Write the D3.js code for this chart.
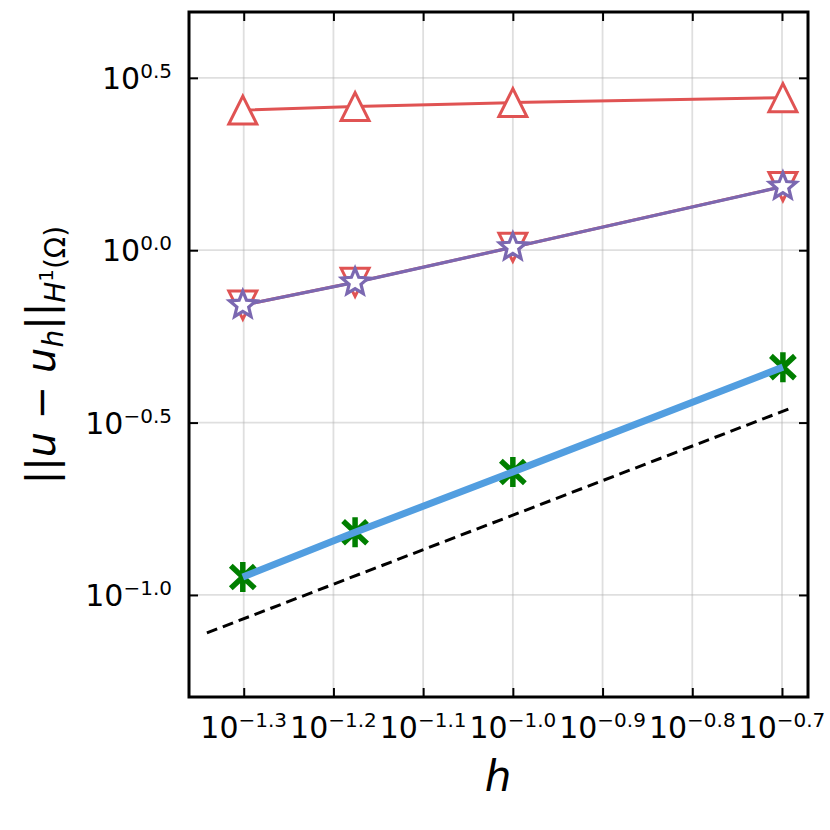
<!DOCTYPE html>
<html><head><meta charset="utf-8">
<script src="https://cdn.jsdelivr.net/npm/d3@7"></script>
<style>body{margin:0;background:#fff}svg{display:block}</style>
</head><body>
<script>
// ---- data ----
const hValues = [0.05, 0.0667, 0.1, 0.2];
const errTriUp = [2.55, 2.61, 2.68, 2.77];
const errTriDown = [0.693, 0.807, 1.02, 1.53];
const errStar = [0.693, 0.807, 1.02, 1.53];
const errAsterisk = [0.1127, 0.152, 0.2275, 0.458];
const errBlue = [0.1127, 0.152, 0.2275, 0.458];
const refH = [0.0456, 0.2037];
const refErr = [0.0776, 0.3475];
const xTickExp = ["-1.3", "-1.2", "-1.1", "-1.0", "-0.9", "-0.8", "-0.7"];
const yTickExp = ["0.5", "0.0", "-0.5", "-1.0"];

const W = 830, H = 830;
const m = {left: 189, right: 22, top: 12, bottom: 133};
const iw = W - m.left - m.right, ih = H - m.top - m.bottom;

const svg = d3.select("body").append("svg").attr("width", W).attr("height", H);
const g = svg.append("g").attr("transform", `translate(${m.left},${m.top})`);

const x = d3.scaleLog().domain([Math.pow(10, -1.361), Math.pow(10, -0.671)]).range([0, iw]);
const y = d3.scaleLog().domain([Math.pow(10, -1.296), Math.pow(10, 0.691)]).range([ih, 0]);

const xTicks = xTickExp.map(e => Math.pow(10, +e));
const yTicks = yTickExp.map(e => Math.pow(10, +e));

// grid
g.append("g").selectAll("line").data(xTicks).join("line")
  .attr("x1", d => x(d)).attr("x2", d => x(d)).attr("y1", 0).attr("y2", ih)
  .attr("stroke", "#b0b0b0").attr("stroke-opacity", 0.4).attr("stroke-width", 1.8);
g.append("g").selectAll("line").data(yTicks).join("line")
  .attr("y1", d => y(d)).attr("y2", d => y(d)).attr("x1", 0).attr("x2", iw)
  .attr("stroke", "#b0b0b0").attr("stroke-opacity", 0.4).attr("stroke-width", 1.8);

// axes (ticks inward)
const tk = 9;
function styleAxis(sel){ sel.select(".domain").remove(); sel.selectAll("line").attr("stroke","#000").attr("stroke-width",2); sel.selectAll("text").remove(); }
g.append("g").attr("transform", `translate(0,${ih})`).call(d3.axisBottom(x).tickValues(xTicks).tickSize(-tk).tickFormat(() => "")).call(styleAxis);
g.append("g").call(d3.axisTop(x).tickValues(xTicks).tickSize(-tk).tickFormat(() => "")).call(styleAxis);
g.append("g").call(d3.axisLeft(y).tickValues(yTicks).tickSize(-tk).tickFormat(() => "")).call(styleAxis);
g.append("g").attr("transform", `translate(${iw},0)`).call(d3.axisRight(y).tickValues(yTicks).tickSize(-tk).tickFormat(() => "")).call(styleAxis);

// tick labels
const font = "DejaVu Sans, sans-serif";
xTickExp.forEach((e, i) => {
  const t = g.append("text").attr("x", x(xTicks[i])).attr("y", ih + 41)
    .attr("text-anchor", "middle").attr("font-family", font).attr("fill", "#000");
  t.append("tspan").attr("font-size", 30).text("10");
  t.append("tspan").attr("font-size", 20).attr("dy", -11).text(e.replace("-", "\u2212"));
});
yTickExp.forEach((e, i) => {
  const t = g.append("text").attr("x", -17).attr("y", y(yTicks[i]) + 11)
    .attr("text-anchor", "end").attr("font-family", font).attr("fill", "#000");
  t.append("tspan").attr("font-size", 30).text("10");
  t.append("tspan").attr("font-size", 20).attr("dy", -11).text(e.replace("-", "\u2212"));
});

// axis labels
svg.append("text").attr("x", 498).attr("y", 791).attr("text-anchor", "middle")
  .attr("font-family", font).attr("font-style", "italic").attr("font-size", 42).text("h");
const yl = svg.append("text").attr("transform", "translate(55,355) rotate(-90)")
  .attr("text-anchor", "middle").attr("font-family", font).attr("font-size", 40);
yl.append("tspan").text("||");
yl.append("tspan").attr("font-style", "italic").text("u");
yl.append("tspan").text(" \u2212 ");
yl.append("tspan").attr("font-style", "italic").text("u");
yl.append("tspan").attr("font-style", "italic").attr("font-size", 28).attr("dy", 8).text("h");
yl.append("tspan").attr("dy", -8).text("||");
yl.append("tspan").attr("font-style", "italic").attr("font-size", 28).attr("dy", 10).text("H");
yl.append("tspan").attr("font-size", 20).attr("dy", -12).text("1");
yl.append("tspan").attr("font-size", 28).attr("dy", 12).text("(\u03A9)");

// data layer
const dg = g.append("g");
const line = d3.line().x(d => x(d[0])).y(d => y(d[1]));
const zip = (a, b) => a.map((v, i) => [v, b[i]]);

// reference dashed line (slope 1)
dg.append("path").datum(zip(refH, refErr)).attr("d", line).attr("fill", "none")
  .attr("stroke", "#000").attr("stroke-width", 3).attr("stroke-dasharray", "11,6");

const RED = "#e05353", PURPLE = "#7b68b1", GREEN = "#007f00", BLUE = "#529ee0";

// triangle up series
dg.append("path").datum(zip(hValues, errTriUp)).attr("d", line).attr("fill", "none").attr("stroke", RED).attr("stroke-width", 3);
const s = 14;
dg.selectAll(".tu").data(zip(hValues, errTriUp)).join("path")
  .attr("d", `M0,${-s}L${-s},${s}L${s},${s}Z`)
  .attr("transform", d => `translate(${x(d[0])},${y(d[1])})`)
  .attr("fill", "#fff").attr("stroke", RED).attr("stroke-width", 3).attr("stroke-linejoin", "miter");

// triangle down series
dg.append("path").datum(zip(hValues, errTriDown)).attr("d", line).attr("fill", "none").attr("stroke", RED).attr("stroke-width", 3);
dg.selectAll(".td").data(zip(hValues, errTriDown)).join("path")
  .attr("d", `M0,${s}L${-s},${-s}L${s},${-s}Z`)
  .attr("transform", d => `translate(${x(d[0])},${y(d[1])})`)
  .attr("fill", "#fff").attr("stroke", RED).attr("stroke-width", 3);

// star series
dg.append("path").datum(zip(hValues, errStar)).attr("d", line).attr("fill", "none").attr("stroke", PURPLE).attr("stroke-width", 3.2);
const starPath = (() => { const pts = []; const R = 14, r = 6.2;
  for (let i = 0; i < 10; i++) { const a = -Math.PI / 2 + i * Math.PI / 5; const rr = i % 2 ? r : R; pts.push([rr * Math.cos(a), rr * Math.sin(a)]); }
  return "M" + pts.map(p => p.join(",")).join("L") + "Z"; })();
dg.selectAll(".st").data(zip(hValues, errStar)).join("path")
  .attr("d", starPath).attr("transform", d => `translate(${x(d[0])},${y(d[1])})`)
  .attr("fill", "#fff").attr("stroke", PURPLE).attr("stroke-width", 3.2).attr("stroke-linejoin", "miter");

// asterisk series
const a = 15;
const astPath = [[0, -a, 0, a], [-a * 0.8, -a * 0.75, a * 0.8, a * 0.75], [-a * 0.8, a * 0.75, a * 0.8, -a * 0.75]]
  .map(q => `M${q[0]},${q[1]}L${q[2]},${q[3]}`).join("");
dg.selectAll(".as").data(zip(hValues, errAsterisk)).join("path")
  .attr("d", astPath).attr("transform", d => `translate(${x(d[0])},${y(d[1])})`)
  .attr("fill", "none").attr("stroke", GREEN).attr("stroke-width", 5.5);

// thick blue line
dg.append("path").datum(zip(hValues, errBlue)).attr("d", line).attr("fill", "none").attr("stroke", BLUE).attr("stroke-width", 7);

// frame
g.append("rect").attr("width", iw).attr("height", ih).attr("fill", "none").attr("stroke", "#000").attr("stroke-width", 3);
</script>
</body></html>
